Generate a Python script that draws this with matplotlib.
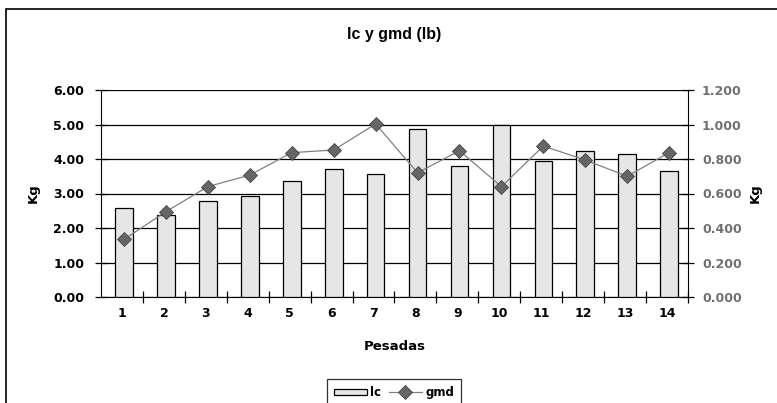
import matplotlib.pyplot as plt
from matplotlib.patches import Rectangle
from matplotlib.ticker import FixedLocator, FormatStrFormatter

plt.rcParams['font.family'] = ['DejaVu Sans']
plt.rcParams['font.weight'] = 'bold'

# datos
pesadas = list(range(1, 15))
lc = [2.57, 2.37, 2.79, 2.93, 3.36, 3.71, 3.57, 4.86, 3.80, 5.00, 3.94, 4.23, 4.14, 3.65]
gmd = [0.334, 0.495, 0.640, 0.707, 0.837, 0.852, 1.003, 0.720, 0.848, 0.640, 0.875, 0.794, 0.700, 0.837]
yticks_izq = [0, 1, 2, 3, 4, 5, 6]
yticks_der = [0, 0.2, 0.4, 0.6, 0.8, 1.0, 1.2]

W, H = 777, 403
fig = plt.figure(figsize=(W / 100, H / 100), dpi=100)

# marco exterior del area del grafico
fig.patches.append(Rectangle((6 / W, -0.1), 1.2, 1 - 9 / H + 0.1, transform=fig.transFigure,
                             fill=False, edgecolor='black', linewidth=1.2))

ax = fig.add_axes([101 / W, 1 - 297 / H, 587 / W, 207 / H])
ax.set_facecolor('none')
ax.bar([p + 0.05 for p in pesadas], lc, width=0.42, color='#e6e6e6', edgecolor='black',
       linewidth=0.9, label='lc', zorder=3)
ax.set_xlim(0.5, 14.5)
ax.set_ylim(0, 6)
ax.set_yticks(yticks_izq)
ax.yaxis.set_major_formatter(FormatStrFormatter('%.2f'))
ax.grid(axis='y', color='black', linewidth=0.9, zorder=0)
ax.set_xticks(pesadas)
ax.xaxis.set_minor_locator(FixedLocator([p + 0.5 for p in pesadas]))
ax.tick_params(axis='x', which='major', length=0, pad=7.5, labelsize=9)
ax.tick_params(axis='x', which='minor', length=8, direction='inout', width=0.9)
ax.tick_params(axis='y', length=8, direction='inout', width=0.9, labelsize=9, pad=8)
for s in ['top', 'right']:
    ax.spines[s].set_visible(False)
ax.set_xlabel('Pesadas', fontsize=9.5, fontweight='bold', labelpad=14)
ax.set_ylabel('Kg', fontsize=9.5, fontweight='bold', labelpad=10)

ax2 = ax.twinx()
ax2.plot([p + 0.05 for p in pesadas], gmd, color='#808080', linewidth=0.9, marker='D',
         markersize=7.5, markerfacecolor='#666666', markeredgecolor='#444444',
         markeredgewidth=0.6, label='gmd', zorder=4)
ax2.set_ylim(0, 1.2)
ax2.set_yticks(yticks_der)
ax2.yaxis.set_major_formatter(FormatStrFormatter('%.3f'))
ax2.tick_params(axis='y', length=8, direction='inout', width=0.9, labelsize=9,
                labelcolor='#707070', pad=6)
for s in ['top', 'left', 'bottom']:
    ax2.spines[s].set_visible(False)
ax2.set_ylabel('Kg', fontsize=9.5, fontweight='bold', labelpad=5)

fig.text(0.507, 1 - 35 / H, 'lc y gmd (lb)', ha='center', va='center',
         fontsize=11.5, fontweight='bold', family='Liberation Sans')

h1, l1 = ax.get_legend_handles_labels()
h2, l2 = ax2.get_legend_handles_labels()
leg = fig.legend(h1 + h2, l1 + l2, loc='upper center',
                 bbox_to_anchor=(0.507, 1 - 373 / H), ncol=2, fontsize=8.5,
                 frameon=True, fancybox=False, edgecolor='black', handlelength=2.8,
                 handleheight=0.4, columnspacing=0.6, handletextpad=0.3, borderpad=0.6)
leg.get_frame().set_linewidth(0.9)

fig.savefig('out.png', dpi=100)
